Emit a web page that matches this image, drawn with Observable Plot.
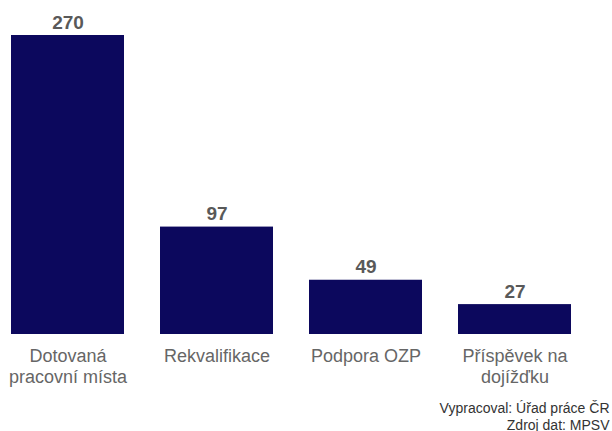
<!DOCTYPE html>
<html>
<head>
<meta charset="utf-8">
<script src="https://cdn.jsdelivr.net/npm/d3@7"></script>
<script src="https://cdn.jsdelivr.net/npm/@observablehq/plot@0.6"></script>
<style>
  body { margin: 0; background: #fff; }
  #chart svg { display: block; }
</style>
</head>
<body>
<div id="chart"></div>
<script>
const categories = ["Dotovaná pracovní místa", "Rekvalifikace", "Podpora OZP", "Příspěvek na dojížďku"];
const tickLabels = ["Dotovaná\npracovní místa", "Rekvalifikace", "Podpora OZP", "Příspěvek na\ndojížďku"];
const values = [270, 97, 49, 27];
const captionLines = ["Vypracoval: Úřad práce ČR", "Zdroj dat: MPSV"];

const data = categories.map((c, i) => ({cat: c, label: tickLabels[i], value: values[i]}));

const chart = Plot.plot({
  width: 612,
  height: 431,
  marginLeft: 10,
  marginRight: 39,
  marginTop: 35,
  marginBottom: 97,
  style: {fontFamily: "'Liberation Sans', Arial, sans-serif", background: "#fff"},
  x: {domain: categories, padding: 0.24, paddingOuter: 0, axis: null},
  y: {domain: [0, 270], axis: null},
  marks: [
    Plot.barY(data, {x: "cat", y: "value", fill: "#0c085d"}),
    Plot.text(data, {x: "cat", y: "value", text: d => String(d.value), lineAnchor: "bottom", dy: -7, fontSize: 19, fontWeight: "bold", fill: "#595959"}),
    Plot.text(data, {x: "cat", y: 0, text: "label", dy: 13, lineAnchor: "top", fontSize: 18, lineHeight: 1.167, fill: "#666"}),
    Plot.text([captionLines.join("\n")], {frameAnchor: "bottom-right", dx: 36, dy: 95, lineAnchor: "bottom", textAnchor: "end", fontSize: 14, lineHeight: 1.214, fill: "#333"})
  ]
});
document.getElementById("chart").appendChild(chart);
</script>
</body>
</html>
